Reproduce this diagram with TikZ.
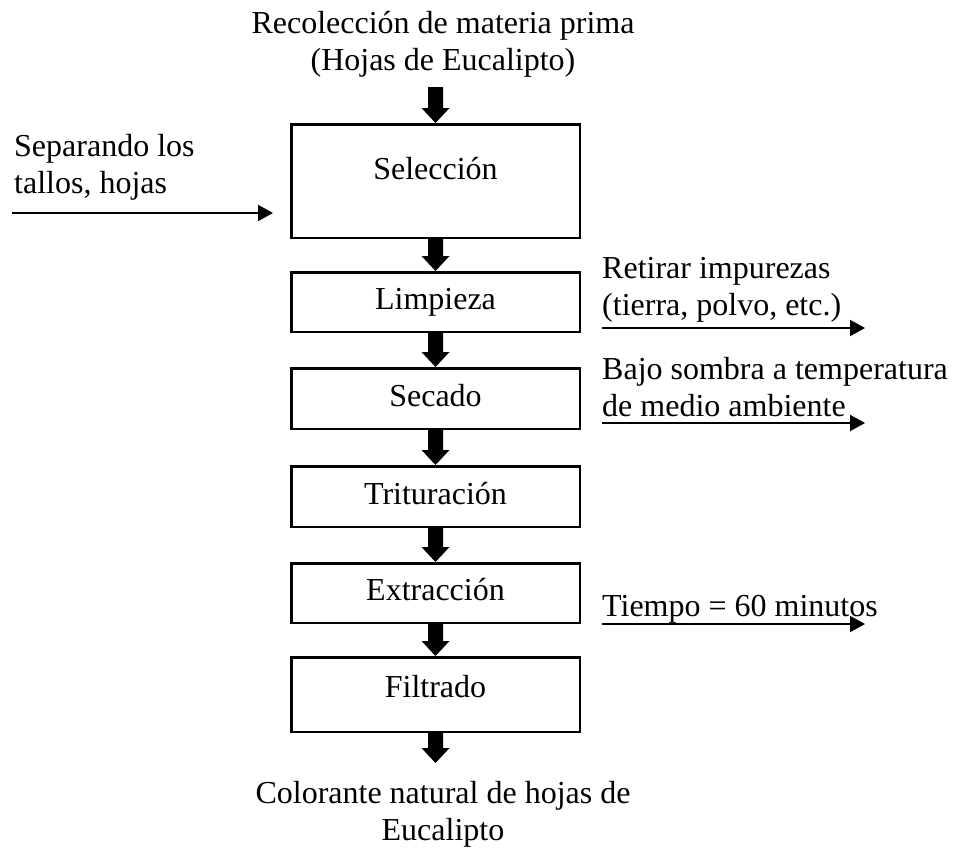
\documentclass[tikz,border=0pt]{standalone}
\usepackage{fontspec}
\setmainfont{Liberation Serif}
\usetikzlibrary{calc,arrows.meta}
\newcommand\blockarrow[2]{%
  \fill ($(#1)+(-7.5,0)$) -- ($(#2)+(-7.5,-15)$) -- ($(#2)+(-14,-15)$) -- (#2)
     -- ($(#2)+(14,-15)$) -- ($(#2)+(7.5,-15)$) -- ($(#1)+(7.5,0)$) -- cycle;}
\begin{document}
\begin{tikzpicture}[x=1pt,y=-1pt,
  every node/.style={font=\fontsize{32}{36.8}\selectfont},
  stepbox/.style={draw,line width=2.5pt,minimum width=288.5pt,inner sep=0pt,
     text height=22pt,text depth=7pt},
  thinarrow/.style={line width=2pt,-{Triangle[length=15pt,width=16pt]}},
  lbl/.style={inner sep=0pt,align=left}]
\useasboundingbox (0,0) rectangle (956,849);
\fill[white] (0,0) rectangle (956,849);

\node[inner sep=0pt,align=center,anchor=north] (top) at (443,11)
  {Recolección de materia prima\\(Hojas de Eucalipto)};
\coordinate (a0) at (435.5,87);

\node[stepbox,minimum height=113.5pt,text depth=25pt] (sel) at (435.5,181) {Selección};
\node[stepbox,minimum height=59.5pt] (lim) at (435.5,302) {Limpieza};
\node[stepbox,minimum height=60.5pt] (sec) at (435.5,398.5) {Secado};
\node[stepbox,minimum height=60.5pt] (tri) at (435.5,496.5) {Trituración};
\node[stepbox,minimum height=59.5pt] (ext) at (435.5,593) {Extracción};
\node[stepbox,minimum height=74.5pt,text depth=17pt] (fil) at (435.5,694.5) {Filtrado};
\coordinate (a7) at (435.5,763);

\node[inner sep=0pt,align=center,anchor=north] (bot) at (443,781)
  {Colorante natural de hojas de\\Eucalipto};

\blockarrow{a0}{sel.north}
\blockarrow{sel.south}{lim.north}
\blockarrow{lim.south}{sec.north}
\blockarrow{sec.south}{tri.north}
\blockarrow{tri.south}{ext.north}
\blockarrow{ext.south}{fil.north}
\blockarrow{fil.south}{a7}

% left input
\node[lbl,anchor=north west] (lt) at (14,134) {Separando los\\tallos, hojas};
\coordinate (l1) at (12,213);
\coordinate (l2) at (273,213);
\draw[thinarrow] (l1) -- (l2);

% right outputs
\node[lbl,anchor=north west] (rt1) at (602,257) {Retirar impurezas\\(tierra, polvo, etc.)};
\coordinate (r1a) at (602,328);
\coordinate (r1b) at (865,328);
\draw[thinarrow] (r1a) -- (r1b);

\node[lbl,anchor=north west] (rt2) at (602,357) {Bajo sombra a temperatura\\de medio ambiente};
\coordinate (r2a) at (602,423);
\coordinate (r2b) at (865,423);
\draw[thinarrow] (r2a) -- (r2b);

\node[lbl,anchor=north west] (rt3) at (602,595) {Tiempo = 60 minutos};
\coordinate (r3a) at (602,624);
\coordinate (r3b) at (865,624);
\draw[thinarrow] (r3a) -- (r3b);
\end{tikzpicture}
\end{document}
